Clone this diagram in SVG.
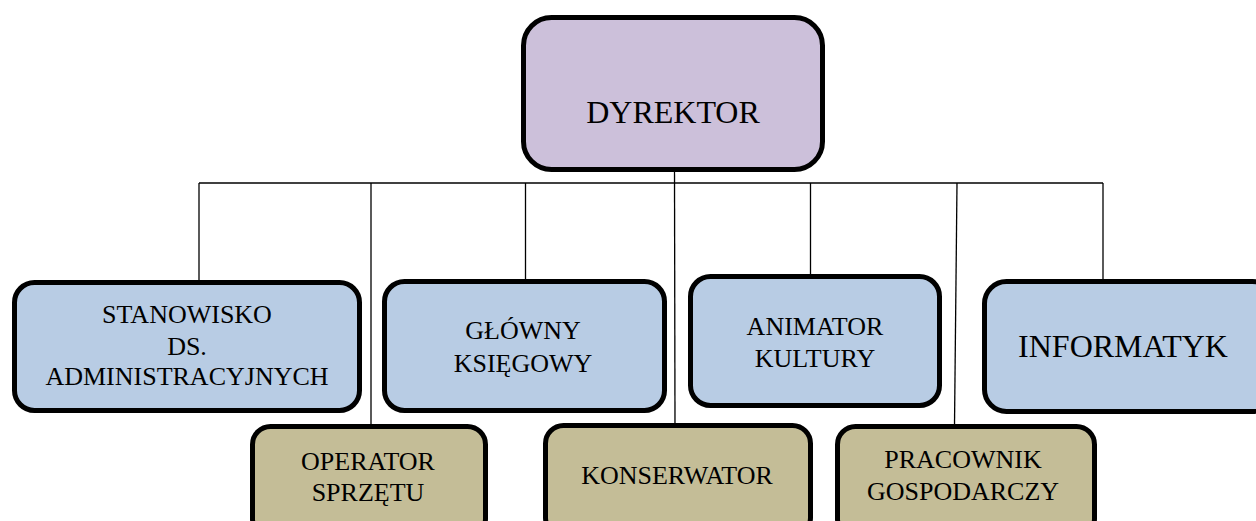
<svg xmlns="http://www.w3.org/2000/svg" width="1256" height="521" viewBox="0 0 1256 521">
<style>
.box{stroke:#000;stroke-width:5}
.top{fill:#CCC0DA}
.blue{fill:#B8CCE4}
.tan{fill:#C4BD97}
.c{fill:none;stroke:#000;stroke-width:1.3}
text{font-family:"Liberation Serif","Times New Roman",serif;fill:#000;text-anchor:middle}
.s{font-size:26px}
.l{font-size:32px}
</style>
<rect width="1256" height="521" fill="#fff"/>
<g id="connectors">
<line class="c" x1="199" y1="183" x2="1103" y2="183"/>
<line class="c" x1="674.5" y1="170" x2="675" y2="426"/>
<line class="c" x1="199" y1="183" x2="199" y2="282"/>
<line class="c" x1="371" y1="183" x2="371" y2="426"/>
<line class="c" x1="525.5" y1="183" x2="525.5" y2="281"/>
<line class="c" x1="810.5" y1="183" x2="810.5" y2="281"/>
<line class="c" x1="957" y1="183" x2="954.5" y2="426"/>
<line class="c" x1="1103" y1="183" x2="1103" y2="281"/>
</g>
<g id="dyrektor">
<rect class="box top" x="523.5" y="17.5" width="299" height="152" rx="28"/>
<text class="l" x="673" y="123">DYREKTOR</text>
</g>
<g id="stanowisko">
<rect class="box blue" x="14.5" y="282.5" width="345" height="128" rx="20"/>
<text class="s" x="187" y="323">STANOWISKO</text>
<text class="s" x="187" y="355">DS.</text>
<text class="s" x="187" y="385">ADMINISTRACYJNYCH</text>
</g>
<g id="glowny">
<rect class="box blue" x="384.5" y="281.5" width="280" height="129" rx="20"/>
<text class="s" x="523" y="339">GŁÓWNY</text>
<text class="s" x="523" y="372">KSIĘGOWY</text>
</g>
<g id="animator">
<rect class="box blue" x="690.5" y="276.5" width="249" height="129" rx="20"/>
<text class="s" x="815" y="335">ANIMATOR</text>
<text class="s" x="815" y="367">KULTURY</text>
</g>
<g id="informatyk">
<rect class="box blue" x="984.5" y="281.5" width="290" height="130" rx="22"/>
<text class="l" x="1123" y="357">INFORMATYK</text>
</g>
<g id="operator">
<rect class="box tan" x="252.5" y="426.5" width="233" height="110" rx="18"/>
<text class="s" x="368" y="470">OPERATOR</text>
<text class="s" x="368" y="501">SPRZĘTU</text>
</g>
<g id="konserwator">
<rect class="box tan" x="545.5" y="425.5" width="265" height="110" rx="18"/>
<text class="s" x="677" y="484">KONSERWATOR</text>
</g>
<g id="pracownik">
<rect class="box tan" x="837.5" y="426.5" width="257" height="110" rx="18"/>
<text class="s" x="963" y="468">PRACOWNIK</text>
<text class="s" x="963" y="500">GOSPODARCZY</text>
</g>
</svg>
